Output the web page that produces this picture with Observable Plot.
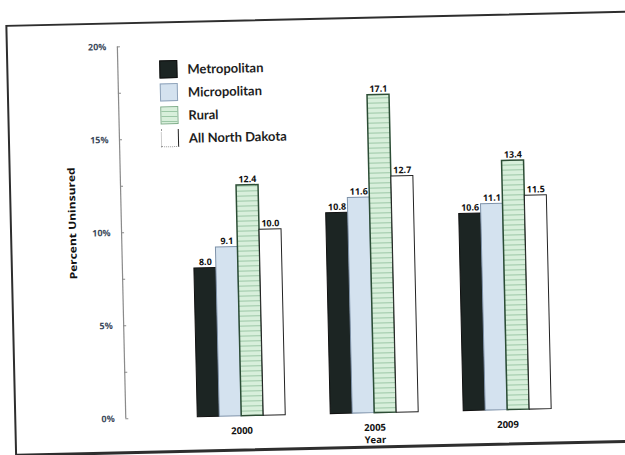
<!DOCTYPE html>
<html>
<head>
<meta charset="utf-8">
<script src="https://cdn.jsdelivr.net/npm/d3@7"></script>
<script src="https://cdn.jsdelivr.net/npm/@observablehq/plot@0.6"></script>
<style>
  html, body { margin: 0; padding: 0; background: #fff; overflow: hidden; }
  #wrap { position: relative; width: 625px; height: 455px; transform: rotate(-1.3deg); transform-origin: 312px 227px; }
  #border { position: absolute; left: 10px; top: 18px; width: 680px; height: 432px; border: 2px solid #2e2e2e; border-bottom-width: 3px; box-sizing: border-box; }
  #chart { position: absolute; left: 0; top: 0; }
  #ylabel { position: absolute; left: 72px; top: 218px; transform: translate(-50%, -50%) rotate(-90deg) scaleX(1.2); font: bold 10px "Open Sans", sans-serif; color: #111; white-space: nowrap; }
  #legend { position: absolute; left: 163px; top: 54px; font: bold 13px Lato, sans-serif; color: #1e1e1e; }
  .item { display: flex; align-items: center; height: 23px; }
  .sw { width: 18px; height: 18px; margin-right: 10px; box-sizing: border-box; }
</style>
</head>
<body>
<svg width="0" height="0" style="position:absolute">
  <defs>
    <pattern id="stripes" patternUnits="userSpaceOnUse" width="6" height="5">
      <rect width="6" height="5" fill="#d8efdb"></rect>
      <line x1="0" y1="4.5" x2="6" y2="4.5" stroke="#9cc7a6" stroke-width="1"></line>
    </pattern>
  </defs>
</svg>
<div id="wrap">
  <div id="border"></div>
  <div id="chart"></div>
  <div id="ylabel">Percent Uninsured</div>
  <div id="legend"></div>
</div>
<script>
const years = ["2000", "2005", "2009"];
const series = ["Metropolitan", "Micropolitan", "Rural", "All North Dakota"];
const metro = [8.0, 10.8, 10.6];
const micro = [9.1, 11.6, 11.1];
const rural = [12.4, 17.1, 13.4];
const allND = [10.0, 12.7, 11.5];
const yTicks = [0, 5, 10, 15, 20];
const yMinorTicks = [0, 2.5, 5, 7.5, 10, 12.5, 15, 17.5, 20];

const fills = ["#1c2523", "#d4e2ef", "url(#stripes)", "#ffffff"];
const strokes = ["#111111", "#7f93aa", "#2c4d35", "#222222"];
const swatchCss = [
  "background:#1c2523;border:1px solid #111",
  "background:#d4e2ef;border:1px solid #8fa3ba",
  "background:repeating-linear-gradient(180deg,#d8efdb 0 4px,#9cc7a6 4px 5px);border:1px solid #7fae8a",
  "background:#fff;border-left:1px dotted #999;border-bottom:1px dotted #999;border-right:1.5px solid #222"
];

const valueSets = [metro, micro, rural, allND];
const data = [];
years.forEach((yr, i) => series.forEach((s, j) => data.push({year: yr, series: s, value: valueSets[j][i]})));

const barMarks = series.map((s, j) =>
  Plot.barY(data.filter(d => d.series === s), {
    fx: "year", x: "series", y: "value",
    fill: fills[j], stroke: strokes[j], strokeWidth: j === 2 ? 1.5 : 1
  })
);

const chart = Plot.plot({
  width: 625,
  height: 455,
  marginLeft: 120,
  marginRight: 5,
  marginTop: 42,
  marginBottom: 41,
  style: {background: "transparent", overflow: "visible"},
  fx: {domain: years, paddingInner: 0.34, paddingOuter: 0.54, label: null},
  x: {domain: series, padding: 0, axis: null},
  y: {domain: [0, 20], axis: null},
  marks: [
    Plot.ruleX([{s: "Metropolitan", year: "2000"}], {x: "s", fx: "year", y1: 0, y2: 20, dx: -83, stroke: "#8a8a8a", strokeWidth: 1.2}),
    Plot.axisY({ticks: yMinorTicks, tickSize: 3, dx: -69, text: null, label: null, stroke: "#8a8a8a"}),
    Plot.axisY({ticks: yTicks, tickSize: 0, tickPadding: 11, dx: -72, tickFormat: d => d + "%", fontSize: 9, fontWeight: "bold", fill: "#3c4a5c", label: null}),
    ...barMarks,
    Plot.text(data, {fx: "year", x: "series", y: "value", text: d => d.value.toFixed(1), dy: -6, fontSize: 9, fontWeight: "bold", fill: "#111"}),
    Plot.axisFx({anchor: "bottom", tickSize: 0, tickPadding: 11, fontSize: 9.5, fontWeight: "bold", fill: "#111", label: "Year", labelAnchor: "center", labelArrow: "none", labelOffset: 30})
  ]
});
chart.style.fontFamily = "'Open Sans', sans-serif";
document.getElementById("chart").appendChild(chart);

const legend = document.getElementById("legend");
series.forEach((s, j) => {
  const item = document.createElement("div");
  item.className = "item";
  item.innerHTML = `<div class="sw" style="${swatchCss[j]}"></div><span>${s}</span>`;
  legend.appendChild(item);
});
</script>
</body>
</html>
